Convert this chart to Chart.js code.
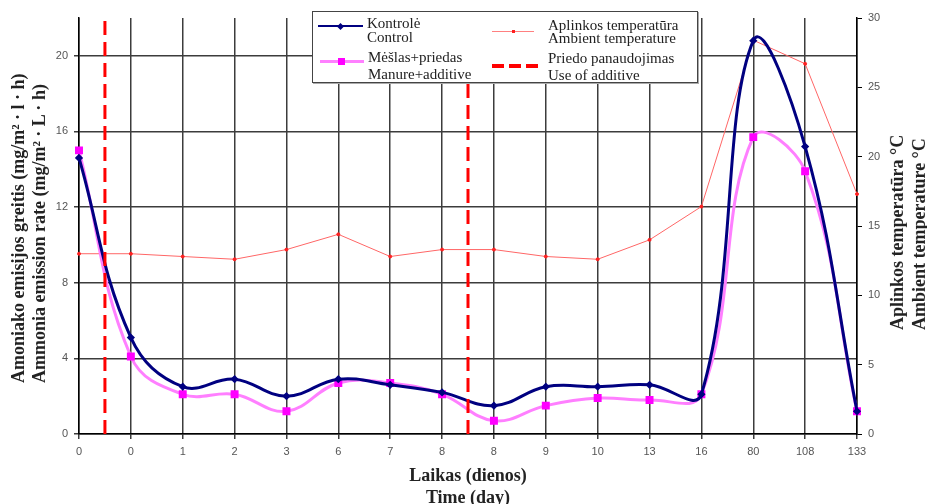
<!DOCTYPE html>
<html>
<head>
<meta charset="utf-8">
<script src="https://cdn.jsdelivr.net/npm/chart.js@4.4.1/dist/chart.umd.min.js"></script>
<style>
  html, body { margin: 0; padding: 0; background: #fff; }
  #wrap { position: relative; width: 927px; height: 504px; overflow: hidden; }
  #chart { position: absolute; left: 0; top: 0; }
  .vtitle {
    position: absolute; writing-mode: vertical-rl; transform: rotate(180deg);
    font: bold 18px 'Liberation Serif', serif; color: #222; white-space: nowrap; text-align: start;
  }
  .legend-box {
    position: absolute; left: 312px; top: 11px; width: 384px; height: 70px;
    background: #fff; border: 1px solid #444; box-shadow: 1px 1px 0 #aaa;
  }
  .lt { position: absolute; font: 15px 'Liberation Serif', serif; color: #222; white-space: nowrap; line-height: 14px; }
  .sw { position: absolute; }
</style>
</head>
<body>
<div id="wrap">
  <canvas id="chart" width="927" height="504"></canvas>

  <div class="vtitle" style="left:8px; top:52px; width:42px; height:331px; line-height:21px;">
    Amoniako emisijos greitis (mg/m² · l · h)<br>Ammonia emission rate (mg/m² · L · h)
  </div>
  <div class="vtitle" style="left:886px; top:120px; width:44px; height:210px; line-height:22px;">
    Aplinkos temperatūra °C<br>Ambient temperature °C
  </div>

  <div class="legend-box"></div>
  <div class="sw" style="left:318px; top:25px; width:45px; height:2px; background:#000080;"></div>
  <div class="sw" style="left:338px; top:24px; width:5px; height:5px; background:#000080; transform:rotate(45deg);"></div>
  <div class="lt" style="left:367px; top:16px;">Kontrolė</div>
  <div class="lt" style="left:367px; top:30px;">Control</div>

  <div class="sw" style="left:320px; top:60px; width:44px; height:3px; background:#ff80ff;"></div>
  <div class="sw" style="left:338px; top:58px; width:7px; height:7px; background:#ff00ff;"></div>
  <div class="lt" style="left:368px; top:50px;">Mėšlas+priedas</div>
  <div class="lt" style="left:368px; top:67px;">Manure+additive</div>

  <div class="sw" style="left:492px; top:31px; width:42px; height:1px; background:#ff8080;"></div>
  <div class="sw" style="left:512px; top:30px; width:3px; height:3px; background:#ff2020;"></div>
  <div class="lt" style="left:548px; top:18px;">Aplinkos temperatūra</div>
  <div class="lt" style="left:548px; top:31px;">Ambient temperature</div>

  <div class="sw" style="left:492px; top:64px; width:46px; height:4px; background:repeating-linear-gradient(90deg, #ff0000 0 12px, transparent 12px 17px);"></div>
  <div class="lt" style="left:548px; top:51px;">Priedo panaudojimas</div>
  <div class="lt" style="left:548px; top:68px;">Use of additive</div>
</div>

<script>
// values
const timeLabels = ['0', '0', '1', '2', '3', '6', '7', '8', '8', '9', '10', '13', '16', '80', '108', '133'];
const control = [14.6, 5.1, 2.5, 2.9, 2.0, 2.9, 2.6, 2.2, 1.5, 2.5, 2.5, 2.6, 2.1, 20.8, 15.2, 1.2];
const manureAdditive = [15.0, 4.1, 2.1, 2.1, 1.2, 2.7, 2.7, 2.1, 0.7, 1.5, 1.9, 1.8, 2.1, 15.7, 13.9, 1.2];
const ambientTemp = [13.0, 13.0, 12.8, 12.6, 13.3, 14.4, 12.8, 13.3, 13.3, 12.8, 12.6, 14.0, 16.4, 28.4, 26.7, 17.3];
// additive applied between these two sampling points (category index)
const additiveUse = [0.5, 7.5];

const EMISSION_MAX = 22;
const TEMP_MAX = 30;

Chart.defaults.font.family = "'Liberation Sans', Arial, sans-serif";

const toPoints = arr => arr.map((v, i) => ({ x: i, y: v }));

const additiveSets = additiveUse.map(x => ({
    label: 'Priedo panaudojimas',
    data: [{ x: x, y: 0 }, { x: x, y: EMISSION_MAX }],
    borderColor: '#ff0000',
    borderWidth: 3,
    borderDash: [14, 7],
    pointRadius: 0,
    yAxisID: 'y',
    order: 0
}));

const gridColor = '#3c3c3c';
const tickFont = { size: 11 };

new Chart(document.getElementById('chart'), {
    type: 'line',
    data: {
        datasets: [
            ...additiveSets,
            {
                label: 'Kontrolė',
                data: toPoints(control),
                borderColor: '#000080',
                backgroundColor: '#000080',
                borderWidth: 3,
                tension: 0.4,
                pointStyle: 'rectRot',
                pointRadius: 2,
                clip: false,
                yAxisID: 'y',
                order: 1
            },
            {
                label: 'Mėšlas+priedas',
                data: toPoints(manureAdditive),
                borderColor: '#ff7fff',
                backgroundColor: '#ff00ff',
                pointBorderColor: '#ff00ff',
                borderWidth: 3,
                tension: 0.4,
                pointStyle: 'rect',
                pointRadius: 3.5,
                clip: false,
                yAxisID: 'y',
                order: 2
            },
            {
                label: 'Aplinkos temperatūra',
                data: toPoints(ambientTemp),
                borderColor: '#ff6666',
                backgroundColor: '#ff2020',
                pointBorderColor: '#ff2020',
                borderWidth: 1,
                tension: 0,
                pointRadius: 1.5,
                clip: false,
                yAxisID: 'y1',
                order: 3
            }
        ]
    },
    options: {
        responsive: false,
        animation: false,
        layout: { padding: { top: 18, left: 0, right: 0, bottom: 0 } },
        plugins: { legend: { display: false }, tooltip: { enabled: false } },
        scales: {
            x: {
                type: 'linear',
                min: 0,
                max: timeLabels.length - 1,
                afterFit: s => { s.height = 70; },
                grid: { color: gridColor, lineWidth: 1.5, tickLength: 5 },
                border: { color: '#000', width: 1.5 },
                ticks: {
                    stepSize: 1,
                    autoSkip: false,
                    maxRotation: 0,
                    padding: 6,
                    color: '#555',
                    font: tickFont,
                    callback: v => timeLabels[v]
                },
                title: {
                    display: true,
                    text: ['Laikas (dienos)', 'Time (day)'],
                    color: '#222',
                    font: { family: "'Liberation Serif', serif", size: 18, weight: 'bold', lineHeight: '22px' },
                    padding: { top: 0, bottom: -5 }
                }
            },
            y: {
                position: 'left',
                min: 0,
                max: EMISSION_MAX,
                afterFit: s => { s.width = 79; },
                grid: { color: gridColor, lineWidth: 1.5, tickLength: 5 },
                border: { color: '#000', width: 1.5 },
                ticks: { stepSize: 4, includeBounds: false, padding: 6, color: '#555', font: tickFont }
            },
            y1: {
                position: 'right',
                min: 0,
                max: TEMP_MAX,
                afterFit: s => { s.width = 70; },
                grid: { drawOnChartArea: false, color: '#000', tickLength: 5 },
                border: { color: '#000', width: 1.5 },
                ticks: { stepSize: 5, padding: 6, color: '#555', font: tickFont }
            }
        }
    }
});
</script>
</body>
</html>
